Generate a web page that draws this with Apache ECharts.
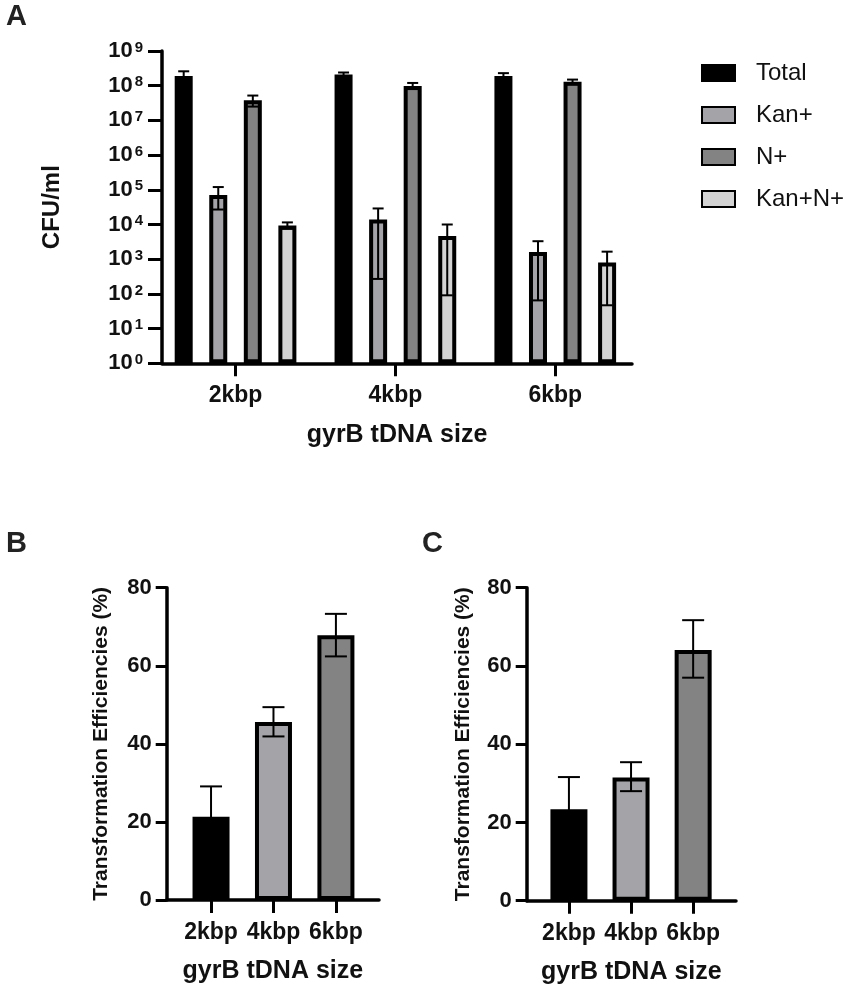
<!DOCTYPE html>
<html>
<head>
<meta charset="utf-8">
<script src="https://cdn.jsdelivr.net/npm/echarts@6/dist/echarts.min.js"></script>
<style>
html, body { margin: 0; padding: 0; background: #fff; }
#main { width: 851px; height: 991px; }
</style>
</head>
<body>
<div id="main"></div>
<script>
"use strict"
// categories
const sizes = ['2kbp', '4kbp', '6kbp'];
const groupNames = ['Total', 'Kan+', 'N+', 'Kan+N+'];

// panel A, CFU/ml (mean, lower and upper end of the error bar)
const totalCfu = [1.9e8, 2.1e8, 1.9e8];
const totalLow = [1.4e8, 1.8e8, 1.6e8];
const totalHigh = [2.6e8, 2.4e8, 2.3e8];
const kanCfu = [7.1e4, 1.4e4, 1.6e3];
const kanLow = [2.7e4, 2.7e2, 65];
const kanHigh = [1.2e5, 2.9e4, 3.3e3];
const nCfu = [3.8e7, 9.8e7, 1.3e8];
const nLow = [2.5e7, 8.0e7, 1.1e8];
const nHigh = [5.2e7, 1.2e8, 1.5e8];
const kanNCfu = [9.3e3, 4.7e3, 8.0e2];
const kanNLow = [7.5e3, 91, 47];
const kanNHigh = [1.15e4, 1.0e4, 1.65e3];
const logExponents = [0, 1, 2, 3, 4, 5, 6, 7, 8, 9];

// panel B and C, transformation efficiencies (%)
const effB = [21.3, 45.6, 67.8];
const effBLow = [13.5, 41.9, 62.4];
const effBHigh = [29.1, 49.4, 73.3];
const effC = [23.4, 31.5, 64.1];
const effCLow = [15.2, 28.0, 57.0];
const effCHigh = [31.6, 35.4, 71.7];
const effTicks = [0, 20, 40, 60, 80];

const font = "'Liberation Sans', Arial, sans-serif";
const ink = '#111';
const fillsA = ['#000000', '#a4a4a8', '#838383', '#d3d3d3'];
const fillsBC = ['#000000', '#a4a4a8', '#838383'];
const barWA = 18, gapA = 0.92;
const barWBC = 37;

let chart = echarts.init(document.getElementById('main'), null, {renderer: 'canvas'});

const meansA = [totalCfu, kanCfu, nCfu, kanNCfu];
const lowsA = [totalLow, kanLow, nLow, kanNLow];
const highsA = [totalHigh, kanHigh, nHigh, kanNHigh];
const catIdx = sizes.map(function (s, i) { return i; });

function errorItem(halfCap, offsetFn) {
    return function (params, api) {
        var x = api.value(0);
        var lo = api.coord([x, api.value(1)]);
        var hi = api.coord([x, api.value(2)]);
        var cx = lo[0] + offsetFn(api.value(3));
        var st = {stroke: '#000', lineWidth: 2};
        return {
            type: 'group',
            children: [
                {type: 'line', shape: {x1: cx, y1: lo[1], x2: cx, y2: hi[1]}, style: st},
                {type: 'line', shape: {x1: cx - halfCap, y1: hi[1], x2: cx + halfCap, y2: hi[1]}, style: st},
                {type: 'line', shape: {x1: cx - halfCap, y1: lo[1], x2: cx + halfCap, y2: lo[1]}, style: st}
            ]
        };
    };
}

function offsetA(s) {
    var n = groupNames.length;
    var total = n * barWA + (n - 1) * barWA * gapA;
    return -total / 2 + s * barWA * (1 + gapA) + barWA / 2;
}

function xAxisFor(grid, min, max) {
    return {
        gridIndex: grid, type: 'value', min: min, max: max,
        axisLine: {show: true, onZero: false, lineStyle: {color: '#000', width: 3.5}},
        axisTick: {show: true, length: 13, customValues: catIdx, lineStyle: {color: '#000', width: 3}},
        axisLabel: {
            customValues: catIdx, margin: 21,
            formatter: function (v) { return sizes[Math.round(v)]; },
            fontSize: 23, fontWeight: 'bold', color: ink, fontFamily: font
        },
        splitLine: {show: false},
        name: 'gyrB tDNA size', nameLocation: 'middle', nameGap: 59,
        nameTextStyle: {fontSize: 25, fontWeight: 'bold', color: ink, fontFamily: font}
    };
}

function yAxisEff(grid, gap) {
    return {
        gridIndex: grid, type: 'value', min: 0, max: 80, interval: 20,
        axisLine: {show: true, onZero: false, lineStyle: {color: '#000', width: 3.5}},
        axisTick: {show: true, length: 11, customValues: effTicks, lineStyle: {color: '#000', width: 3}},
        axisLabel: {customValues: effTicks, margin: 15, fontSize: 22, fontWeight: 'bold', color: ink, fontFamily: font},
        splitLine: {show: false},
        name: 'Transformation Efficiencies (%)', nameLocation: 'middle', nameGap: gap,
        nameTextStyle: {fontSize: 21, fontWeight: 'bold', color: ink, fontFamily: font}
    };
}

var series = [];
groupNames.forEach(function (name, i) {
    series.push({
        name: name, type: 'bar', xAxisIndex: 0, yAxisIndex: 0,
        barWidth: barWA, barGap: (gapA * 100) + '%',
        data: meansA[i].map(function (v, j) { return [j, v]; }),
        itemStyle: {color: fillsA[i], borderColor: '#000', borderWidth: 4}
    });
});
var errA = [];
groupNames.forEach(function (name, i) {
    sizes.forEach(function (s, j) {
        errA.push([j, lowsA[i][j], highsA[i][j], i]);
    });
});
series.push({
    type: 'custom', xAxisIndex: 0, yAxisIndex: 0, z: 5,
    encode: {x: 0, y: [1, 2]},
    renderItem: errorItem(5.5, offsetA),
    data: errA
});

[[effB, effBLow, effBHigh], [effC, effCLow, effCHigh]].forEach(function (set, k) {
    series.push({
        type: 'bar', xAxisIndex: k + 1, yAxisIndex: k + 1, barWidth: barWBC,
        data: set[0].map(function (v, j) { return [j, v]; }),
        itemStyle: {
            color: function (p) { return fillsBC[p.dataIndex]; },
            borderColor: '#000', borderWidth: 4
        }
    });
    series.push({
        type: 'custom', xAxisIndex: k + 1, yAxisIndex: k + 1, z: 5,
        encode: {x: 0, y: [1, 2]},
        renderItem: errorItem(11, function () { return 0; }),
        data: set[0].map(function (v, j) { return [j, set[1][j], set[2][j], 0]; })
    });
});

var option = {
    animation: false,
    backgroundColor: '#fff',
    textStyle: {fontFamily: font},
    title: [
        {text: 'A', left: 6, top: 2, padding: 0, textStyle: {fontSize: 29, fontWeight: 'bold', color: '#222', fontFamily: font}},
        {text: 'B', left: 6, top: 529, padding: 0, textStyle: {fontSize: 29, fontWeight: 'bold', color: '#222', fontFamily: font}},
        {text: 'C', left: 422, top: 529, padding: 0, textStyle: {fontSize: 29, fontWeight: 'bold', color: '#222', fontFamily: font}}
    ],
    legend: {
        data: groupNames, orient: 'vertical', left: 701, top: 61, padding: 0,
        itemWidth: 33, itemHeight: 16, itemGap: 18, icon: 'rect', selectedMode: false,
        textStyle: {fontSize: 24, lineHeight: 24, color: ink, fontFamily: font, padding: [0, 0, 0, 16]}
    },
    grid: [
        {left: 162, top: 51, width: 470, height: 312.3, outerBoundsMode: 'none'},
        {left: 166.7, top: 587.7, width: 212.3, height: 312.3, outerBoundsMode: 'none'},
        {left: 526.7, top: 587.7, width: 209.3, height: 313, outerBoundsMode: 'none'}
    ],
    xAxis: [
        xAxisFor(0, -0.46, 2.48),
        xAxisFor(1, -0.71, 2.69),
        xAxisFor(2, -0.68, 2.69)
    ],
    yAxis: [
        {
            gridIndex: 0, type: 'log', logBase: 10, min: 1, max: 1e9, splitNumber: 9,
            axisLine: {show: true, onZero: false, lineStyle: {color: '#000', width: 3.5}},
            axisTick: {show: true, length: 14, customValues: logExponents.map(function (e) { return Math.pow(10, e); }), lineStyle: {color: '#000', width: 3}},
            axisLabel: {
                customValues: logExponents.map(function (e) { return Math.pow(10, e); }),
                margin: 19,
                formatter: function (v) { return '{b|10}{s|' + Math.round(Math.log10(v)) + '}'; },
                rich: {
                    b: {fontSize: 22, fontWeight: 'bold', color: ink, fontFamily: font},
                    s: {fontSize: 15, fontWeight: 'bold', color: ink, fontFamily: font, verticalAlign: 'top', padding: [0, 0, 0, 2]}
                }
            },
            splitLine: {show: false},
            name: 'CFU/ml', nameLocation: 'middle', nameGap: 98,
            nameTextStyle: {fontSize: 24, fontWeight: 'bold', color: ink, fontFamily: font}
        },
        yAxisEff(1, 55),
        yAxisEff(2, 53)
    ],
    series: series
};

chart.setOption(option);
</script>
</body>
</html>
